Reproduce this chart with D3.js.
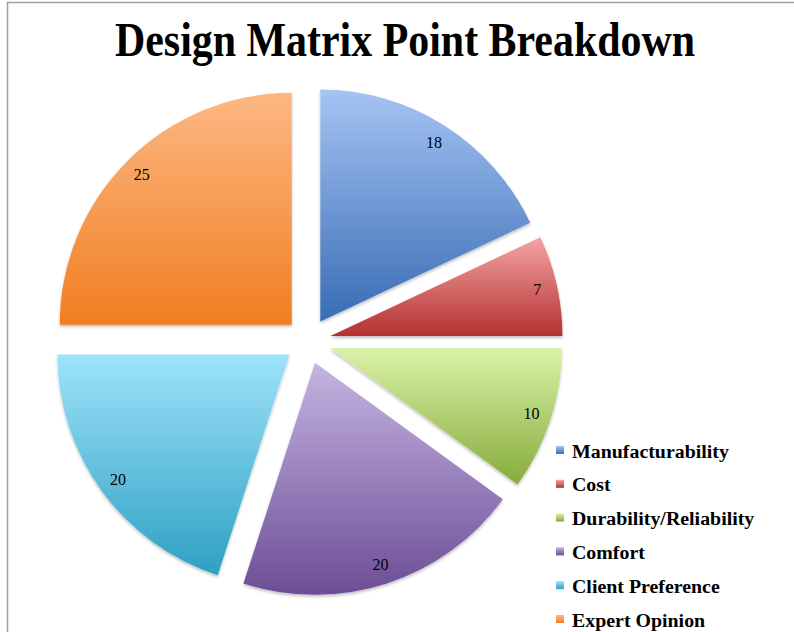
<!DOCTYPE html>
<html>
<head>
<meta charset="utf-8">
<script src="https://cdn.jsdelivr.net/npm/d3@7"></script>
<style>
  body { margin: 0; background: #fff; }
  svg { display: block; }
</style>
</head>
<body>
<div id="chart"></div>
<script>
const categories = ['Manufacturability', 'Cost', 'Durability/Reliability', 'Comfort', 'Client Preference', 'Expert Opinion']
const points = [18, 7, 10, 20, 20, 25]
const topColors = ['#a6c4f4', '#f5a4a4', '#daf2a8', '#c5b4e1', '#9ee3fb', '#fdb884']
const bottomColors = ['#386cb4', '#b53131', '#86ac3c', '#6c4d96', '#2ea0c2', '#f07e20']

const width = 794
const height = 632

const svg = d3.select('#chart')
    .append('svg')
    .attr('width', width)
    .attr('height', height)

const defs = svg.append('defs')

// soft shadow under the slices
const shadow = defs.append('filter')
    .attr('id', 'shadow')
    .attr('x', '-10%').attr('y', '-10%')
    .attr('width', '120%').attr('height', '120%')
shadow.append('feDropShadow')
    .attr('dx', 0).attr('dy', 2)
    .attr('stdDeviation', 1.5)
    .attr('flood-color', '#000')
    .attr('flood-opacity', 0.25)

// vertical gradient per slice
categories.forEach((c, i) => {
    const g = defs.append('linearGradient')
        .attr('id', 'grad' + i)
        .attr('x1', 0).attr('y1', 0)
        .attr('x2', 0).attr('y2', 1)
    g.append('stop').attr('offset', '0%').attr('stop-color', topColors[i])
    g.append('stop').attr('offset', '100%').attr('stop-color', bottomColors[i])
})

// frame (only top and left edges visible)
svg.append('path')
    .attr('d', 'M7.5,632 L7.5,2.5 L794,2.5')
    .attr('fill', 'none')
    .attr('stroke', '#a0a0a0')
    .attr('stroke-width', 1.5)

// title, squeezed to the condensed look of the original
svg.append('text')
    .attr('x', 405)
    .attr('y', 56)
    .attr('text-anchor', 'middle')
    .attr('textLength', 580)
    .attr('lengthAdjust', 'spacingAndGlyphs')
    .style('font-family', '"Liberation Serif", serif')
    .style('font-weight', 'bold')
    .style('font-size', '48px')
    .text('Design Matrix Point Breakdown')

// pie
const cx = 308
const cy = 341
const radius = 232
const explode = 23
const labelRadius = 212

const pie = d3.pie().sort(null).value((d) => d.value)
const arcs = pie(categories.map((c, i) => ({ name: c, value: points[i], i: i })))

const arc = d3.arc().innerRadius(0).outerRadius(radius)

const pieG = svg.append('g').attr('transform', 'translate(' + cx + ',' + cy + ')')

const slices = pieG.selectAll('.slice')
    .data(arcs)
    .enter()
    .append('g')
    .attr('class', 'slice')
    .attr('transform', (d) => {
        const a = (d.startAngle + d.endAngle) / 2
        return 'translate(' + (explode * Math.sin(a)) + ',' + (-explode * Math.cos(a)) + ')'
    })

slices.append('path')
    .attr('d', arc)
    .attr('fill', (d) => 'url(#grad' + d.data.i + ')')
    .attr('filter', 'url(#shadow)')

slices.append('text')
    .attr('x', (d) => labelRadius * Math.sin((d.startAngle + d.endAngle) / 2))
    .attr('y', (d) => -labelRadius * Math.cos((d.startAngle + d.endAngle) / 2))
    .attr('dy', '0.35em')
    .attr('text-anchor', 'middle')
    .style('font-family', '"Liberation Serif", serif')
    .style('font-size', '16px')
    .style('fill', '#000')
    .text((d) => d.data.value)

// legend
const legendY = d3.scalePoint()
    .domain(categories)
    .range([451, 620])

const legend = svg.append('g')
    .selectAll('.legend')
    .data(categories)
    .enter()
    .append('g')
    .attr('class', 'legend')
    .attr('transform', (d) => 'translate(556,' + legendY(d) + ')')

legend.append('rect')
    .attr('x', 0)
    .attr('y', -5)
    .attr('width', 8)
    .attr('height', 8)
    .attr('fill', (d, i) => 'url(#grad' + i + ')')

const legendText = legend.append('text')
    .attr('x', 0)
    .attr('y', 0)
    .attr('dy', '0.35em')
    .style('font-family', '"Liberation Serif", serif')
    .style('font-weight', 'bold')
    .style('font-size', '19px')
    .text((d) => d)

// narrow the legend text so Manufacturability spans the same width as the original
const natural = legendText.nodes()[0].getComputedTextLength()
const squeeze = 157 / natural
legendText.attr('transform', 'translate(16,0) scale(' + squeeze + ',1)')
</script>
</body>
</html>
